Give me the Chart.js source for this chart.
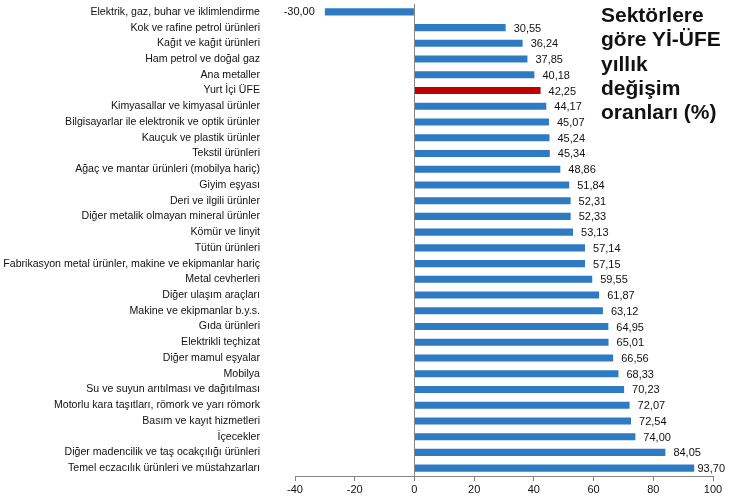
<!DOCTYPE html>
<html>
<head>
<meta charset="utf-8">
<script src="https://cdn.jsdelivr.net/npm/chart.js@4.4.1/dist/chart.umd.min.js"></script>
<style>
  html, body { margin: 0; padding: 0; background: #fff; }
  #wrap { position: relative; width: 729px; height: 501px; }
  #title {
    position: absolute; left: 601px; top: 3px;
    font-family: "Liberation Sans", Arial, sans-serif;
    font-weight: bold; font-size: 21px; line-height: 24.3px; color: #111;
  }
</style>
</head>
<body>
<div id="wrap">
  <canvas id="ufeChart" width="729" height="501"></canvas>
  <div id="title">Sektörlere<br>göre Yİ-ÜFE<br>yıllık<br>değişim<br>oranları (%)</div>
</div>
<script>
const sectors = [
  "Elektrik, gaz, buhar ve iklimlendirme",
  "Kok ve rafine petrol ürünleri",
  "Kağıt ve kağıt ürünleri",
  "Ham petrol ve doğal gaz",
  "Ana metaller",
  "Yurt İçi ÜFE",
  "Kimyasallar ve kimyasal ürünler",
  "Bilgisayarlar ile elektronik ve optik ürünler",
  "Kauçuk ve plastik ürünler",
  "Tekstil ürünleri",
  "Ağaç ve mantar ürünleri (mobilya hariç)",
  "Giyim eşyası",
  "Deri ve ilgili ürünler",
  "Diğer metalik olmayan mineral ürünler",
  "Kömür ve linyit",
  "Tütün ürünleri",
  "Fabrikasyon metal ürünler, makine ve ekipmanlar hariç",
  "Metal cevherleri",
  "Diğer ulaşım araçları",
  "Makine ve ekipmanlar b.y.s.",
  "Gıda ürünleri",
  "Elektrikli teçhizat",
  "Diğer mamul eşyalar",
  "Mobilya",
  "Su ve suyun arıtılması ve dağıtılması",
  "Motorlu kara taşıtları, römork ve yarı römork",
  "Basım ve kayıt hizmetleri",
  "İçecekler",
  "Diğer madencilik ve taş ocakçılığı ürünleri",
  "Temel eczacılık ürünleri ve müstahzarları"
]
const changes = [-30.00, 30.55, 36.24, 37.85, 40.18, 42.25, 44.17, 45.07, 45.24, 45.34,
  48.86, 51.84, 52.31, 52.33, 53.13, 57.14, 57.15, 59.55, 61.87, 63.12,
  64.95, 65.01, 66.56, 68.33, 70.23, 72.07, 72.54, 74.00, 84.05, 93.70]
const highlight = "Yurt İçi ÜFE"
const xTicks = [-40, -20, 0, 20, 40, 60, 80, 100]

const font = "Liberation Sans, Arial, sans-serif"
const axisGray = "#868686"

// value labels next to bar ends, comma decimals
const valueLabels = {
  id: 'valueLabels',
  afterDatasetsDraw(chart) {
    const ctx = chart.ctx
    const meta = chart.getDatasetMeta(0)
    ctx.save()
    ctx.font = "11px " + font
    ctx.fillStyle = "#111"
    ctx.textBaseline = "middle"
    meta.data.forEach((bar, i) => {
      const v = changes[i]
      const txt = v.toFixed(2).replace('.', ',')
      if (v < 0) {
        ctx.textAlign = "right"
        ctx.fillText(txt, bar.x - 10, bar.y)
      } else {
        // keep the last label inside the canvas like the original does
        const w = ctx.measureText(txt).width
        const x = Math.min(bar.x + 8, chart.width - 4 - w)
        ctx.textAlign = "left"
        ctx.fillText(txt, x, bar.y + 1)
      }
    })
    ctx.restore()
  }
}

new Chart(document.getElementById('ufeChart'), {
  type: 'bar',
  data: {
    labels: sectors,
    datasets: [{
      data: changes,
      backgroundColor: sectors.map(s => s === highlight ? "#C00000" : "#2E7BC4"),
      barPercentage: 0.45,
      categoryPercentage: 1.0
    }]
  },
  options: {
    indexAxis: 'y',
    responsive: false,
    animation: false,
    layout: { padding: { top: 4, right: 16, bottom: 0, left: 0 } },
    plugins: {
      legend: { display: false },
      tooltip: { enabled: false }
    },
    scales: {
      x: {
        min: -40,
        max: 100,
        afterBuildTicks: scale => { scale.ticks = xTicks.map(v => ({ value: v })) },
        afterFit: scale => { scale.height = 25 },
        border: { display: true, color: axisGray, width: 1 },
        grid: {
          color: c => (c.tick && c.tick.value === 0) ? axisGray : 'transparent',
          tickColor: axisGray,
          tickLength: 5,
          lineWidth: 1
        },
        ticks: {
          color: "#111",
          font: { family: font, size: 11 },
          padding: 2,
          maxRotation: 0
        }
      },
      y: {
        afterFit: scale => {
          scale.width = 295
          // big tick padding would otherwise push the plot down
          scale.paddingTop = 0
          scale.paddingBottom = 0
        },
        border: { display: false },
        grid: { display: false, drawTicks: false },
        ticks: {
          color: "#111",
          font: { family: font, size: 10.6 },
          padding: 35,
          autoSkip: false
        }
      }
    }
  },
  plugins: [valueLabels]
})
</script>
</body>
</html>
